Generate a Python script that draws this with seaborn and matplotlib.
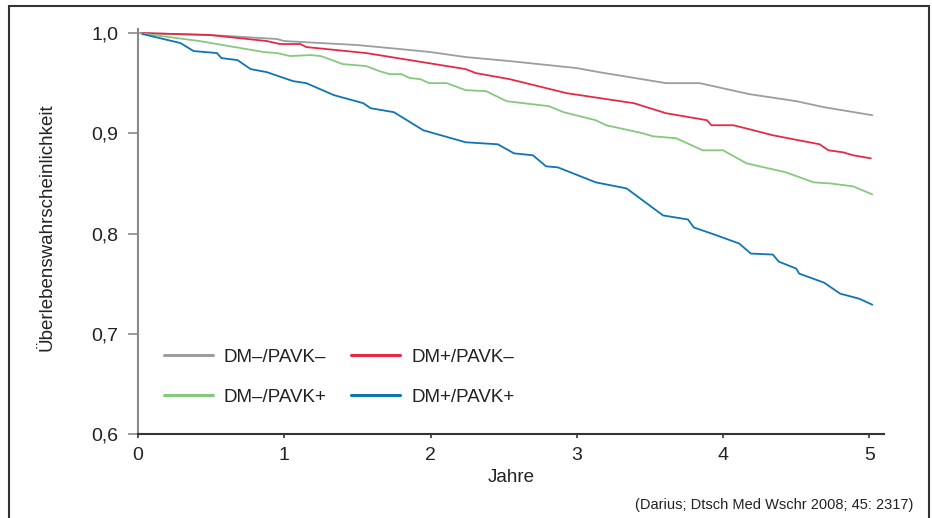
import numpy as np
import pandas as pd
import matplotlib
matplotlib.use("Agg")
import matplotlib.pyplot as plt
from matplotlib.patches import Rectangle
import seaborn as sns

# --- Kaplan-Meier curves (years, survival) ---
t_neg_neg = [0.0, 0.5, 0.95, 1.0, 1.5, 1.79, 2.0, 2.24, 2.54, 3.0, 3.15, 3.61, 3.84, 4.18, 4.5, 4.69, 5.02]
s_neg_neg = [1.0, 0.998, 0.994, 0.992, 0.988, 0.984, 0.981, 0.976, 0.972, 0.965, 0.961, 0.950, 0.950, 0.939, 0.932, 0.926, 0.918]

t_pos_neg = [0.02, 0.49, 0.88, 0.97, 1.11, 1.15, 1.56, 2.24, 2.31, 2.54, 2.93, 3.39, 3.61, 3.89, 3.92, 4.07,
             4.18, 4.34, 4.66, 4.72, 4.82, 4.89, 5.01]
s_pos_neg = [1.0, 0.998, 0.992, 0.989, 0.989, 0.986, 0.980, 0.964, 0.960, 0.954, 0.940, 0.930, 0.920, 0.913, 0.908, 0.908,
             0.904, 0.898, 0.889, 0.883, 0.881, 0.878, 0.875]

t_neg_pos = [0.0, 0.42, 0.86, 0.95, 1.04, 1.18, 1.25, 1.40, 1.56, 1.65, 1.72, 1.80, 1.86, 1.93, 1.99, 2.11, 2.24,
             2.38, 2.52, 2.81, 2.91, 3.13, 3.20, 3.45, 3.52, 3.68, 3.86, 4.00, 4.16, 4.43, 4.62, 4.73, 4.89, 5.02]
s_neg_pos = [1.0, 0.992, 0.981, 0.980, 0.977, 0.978, 0.977, 0.969, 0.967, 0.962, 0.959, 0.959, 0.955, 0.954, 0.950, 0.950, 0.943,
             0.942, 0.932, 0.927, 0.921, 0.913, 0.908, 0.900, 0.897, 0.895, 0.883, 0.883, 0.870, 0.861, 0.851, 0.850, 0.847, 0.839]

t_pos_pos = [0.03, 0.29, 0.38, 0.54, 0.57, 0.68, 0.77, 0.88, 1.06, 1.15, 1.34, 1.54, 1.59, 1.75, 1.95, 2.24, 2.46,
             2.57, 2.70, 2.79, 2.87, 3.13, 3.34, 3.59, 3.76, 3.80, 3.94, 4.11, 4.19, 4.34, 4.38, 4.50, 4.52, 4.69,
             4.80, 4.93, 5.02]
s_pos_pos = [0.999, 0.990, 0.982, 0.980, 0.975, 0.973, 0.964, 0.961, 0.952, 0.950, 0.938, 0.930, 0.925, 0.921, 0.903, 0.891, 0.889,
             0.880, 0.878, 0.867, 0.866, 0.851, 0.845, 0.818, 0.814, 0.806, 0.799, 0.790, 0.780, 0.779, 0.772, 0.765, 0.760, 0.751,
             0.740, 0.735, 0.729]

groups = ["DM\u2013/PAVK\u2013", "DM+/PAVK\u2013", "DM\u2013/PAVK+", "DM+/PAVK+"]
colors = ["#9d9d9d", "#e62a45", "#86c97e", "#0f75b3"]

x_ticks = [0, 1, 2, 3, 4, 5]
y_ticks = [0.6, 0.7, 0.8, 0.9, 1.0]
y_tick_labels = ["0,6", "0,7", "0,8", "0,9", "1,0"]

# long-form frame for seaborn
curves = [(t_neg_neg, s_neg_neg), (t_pos_neg, s_pos_neg), (t_neg_pos, s_neg_pos), (t_pos_pos, s_pos_pos)]
df = pd.concat(
    [pd.DataFrame({"Jahre": t, "S": s, "Gruppe": g}) for (t, s), g in zip(curves, groups)],
    ignore_index=True,
)

sns.set_style("ticks")
plt.rcParams["font.family"] = ["Liberation Sans", "DejaVu Sans"]

fig = plt.figure(figsize=(9.32, 5.18), dpi=100)
ax = fig.add_axes([138 / 932, 1 - 434 / 518, 746 / 932, 405 / 518])

sns.lineplot(data=df, x="Jahre", y="S", hue="Gruppe", hue_order=groups,
             palette=dict(zip(groups, colors)), estimator=None, sort=True,
             linewidth=1.3, ax=ax)

ax.set_xlim(0, 5.10)
ax.set_ylim(0.6, 1.004)
ax.set_xticks(x_ticks)
ax.set_xticklabels([str(v) for v in x_ticks])
ax.set_yticks(y_ticks)
ax.set_yticklabels(y_tick_labels)

for side in ["top", "right"]:
    ax.spines[side].set_visible(False)
ax.spines["left"].set_color("#8a8a8a")
ax.spines["left"].set_linewidth(1.5)
ax.spines["bottom"].set_color("#333333")
ax.spines["bottom"].set_linewidth(1.5)
ax.tick_params(axis="y", length=7, width=1.2, color="#8a8a8a", pad=7, labelsize=14, labelcolor="#222222")
ax.tick_params(axis="x", length=3, width=1.2, color="#333333", pad=6, labelsize=14, labelcolor="#222222")

ax.set_xlabel("Jahre", fontsize=13.5, color="#222222")
ax.set_ylabel("\u00dcberlebenswahrscheinlichkeit", fontsize=13.5, color="#222222")
ax.xaxis.set_label_coords(0.5, -0.086)
ax.yaxis.set_label_coords(-0.122, 0.51)
ax.yaxis.label.set_va("center")

# legend: two columns, grey/red on top, green/blue below
handles, labels = ax.get_legend_handles_labels()
order = [0, 2, 1, 3]
leg = ax.legend([handles[i] for i in order], [labels[i] for i in order],
                ncol=2, frameon=False, fontsize=13.5, loc="center left",
                bbox_to_anchor=(0.022, 0.14), borderpad=0, handlelength=2.6,
                handletextpad=0.6, columnspacing=1.3, labelspacing=1.2)
for line in leg.get_lines():
    line.set_linewidth(2.2)
for txt in leg.get_texts():
    txt.set_color("#222222")

fig.text(913 / 932, 1 - 505 / 518, "(Darius; Dtsch Med Wschr 2008; 45: 2317)",
         ha="right", va="center", fontsize=10.5, color="#222222")

# outer frame around the figure (open at the bottom)
fig.add_artist(Rectangle((9 / 932, -0.2), 920 / 932, 1.2 - 6 / 518,
                         transform=fig.transFigure, fill=False,
                         edgecolor="#333333", linewidth=1.5, clip_on=False))

fig.savefig("out.png", dpi=100)
